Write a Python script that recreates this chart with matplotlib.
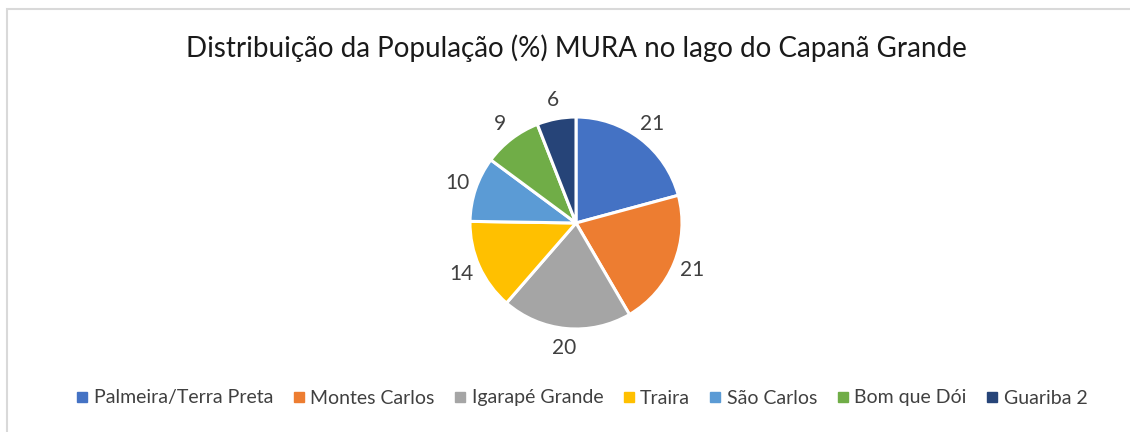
from matplotlib import pyplot as plt
from matplotlib.patches import Rectangle
from matplotlib.lines import Line2D

# data
communities = ['Palmeira/Terra Preta', 'Montes Carlos', 'Igarapé Grande',
               'Traira', 'São Carlos', 'Bom que Dói', 'Guariba 2']
population_pct = [21, 21, 20, 14, 10, 9, 6]
slice_colors = ['#4472C4', '#ED7D31', '#A5A5A5', '#FFC000',
                '#5B9BD5', '#70AD47', '#264478']

W, H = 1130, 432
fig = plt.figure(figsize=(W / 100, H / 100), dpi=100)
plt.rcParams['font.family'] = ['Lato', 'DejaVu Sans']

# light frame like the office chart area
fig.patches.append(Rectangle((7 / W, -0.1), 1.2, (H - 9) / H + 0.1,
                             transform=fig.transFigure, fill=False,
                             edgecolor='#D9D9D9', linewidth=1.5))

# pie axes: center at (576, 223) px from top, radius ~106 px
cx, cy, half = 576, 223, 150
ax = fig.add_axes([(cx - half) / W, (H - cy - half) / H, 2 * half / W, 2 * half / H])
lim = half / 106
wedges, texts = ax.pie(population_pct, colors=slice_colors, startangle=90,
                       counterclock=False, labels=[str(v) for v in population_pct],
                       labeldistance=1.18,
                       wedgeprops=dict(edgecolor='white', linewidth=2.2))
for t in texts:
    t.set_fontsize(15)
    t.set_color('#404040')
    t.set_ha('center')
    t.set_va('center')
ax.set_xlim(-lim, lim)
ax.set_ylim(-lim, lim)
ax.set_aspect('equal')
ax.axis('off')

fig.text(576 / W, 1 - 48 / H, 'Distribuição da População (%) MURA no lago do Capanã Grande',
         ha='center', va='center', fontsize=20, color='#1a1a1a')

handles = [Line2D([], [], marker='s', linestyle='', markersize=6.5,
                  markerfacecolor=c, markeredgecolor=c) for c in slice_colors]
fig.legend(handles, communities, loc='center', bbox_to_anchor=(582 / W, 1 - 398 / H),
           ncol=7, frameon=False, fontsize=14, handlelength=0.6,
           handletextpad=0.3, columnspacing=1.0, labelcolor='#404040')

plt.savefig('out.png', dpi=100)
